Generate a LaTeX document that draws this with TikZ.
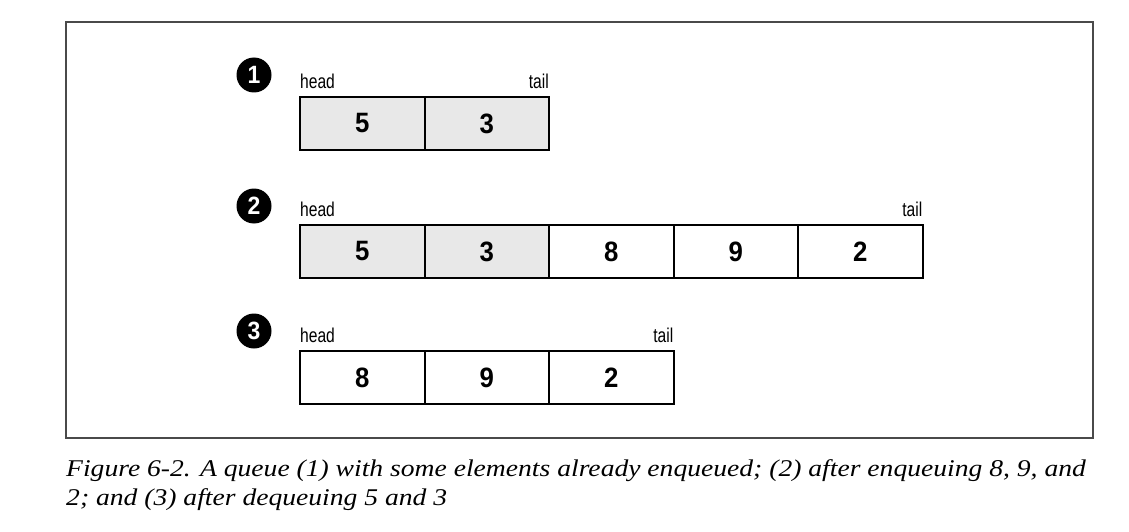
\documentclass[tikz,border=0pt]{standalone}
\usepackage{fontspec}
\usetikzlibrary{positioning}
\newfontfamily\condsans[FakeStretch=0.78]{Liberation Sans}
\newfontfamily\digitsans[FakeStretch=0.92]{Liberation Sans}
\newfontfamily\capserif[FakeStretch=1.15]{Liberation Serif}
\definecolor{qgray}{HTML}{E8E8E8}
\definecolor{framegray}{HTML}{4A4A4A}

\tikzset{
  cell/.style={draw, line width=2pt, minimum width=124.5pt, minimum height=53pt,
    inner sep=0pt, outer sep=0pt, font=\digitsans\bfseries\fontsize{28}{28}\selectfont},
  olditem/.style={cell, fill=qgray},
  lbl/.style={inner sep=0pt, font=\condsans\fontsize{20}{20}\selectfont},
  badge/.style={circle, fill=black, text=white, minimum size=35pt, inner sep=0pt,
    font=\digitsans\bfseries\fontsize{25}{25}\selectfont},
}

\begin{document}
\begin{tikzpicture}[x=1pt, y=-1pt]
\useasboundingbox (0,0) rectangle (1129,532);
\draw[framegray, line width=1.5pt] (66,22) rectangle (1093,438);

% queue 1
\node[badge] (b1) at (254,75) {1};
\node[olditem, anchor=north west] (q1a) at (300,97) {5};
\node[olditem, right=0pt of q1a] (q1b) {3};
\node[lbl, above right=8pt and 0pt of q1a.north west] (h1) {head};
\node[lbl, above left=8pt and 0pt of q1b.north east] (t1) {tail};

% queue 2
\node[badge] (b2) at (254,206) {2};
\node[olditem, anchor=north west] (q2a) at (300,225) {5};
\node[olditem, right=0pt of q2a] (q2b) {3};
\node[cell, right=0pt of q2b] (q2c) {8};
\node[cell, right=0pt of q2c] (q2d) {9};
\node[cell, right=0pt of q2d] (q2e) {2};
\node[lbl, above right=8pt and 0pt of q2a.north west] (h2) {head};
\node[lbl, above left=8pt and 0pt of q2e.north east] (t2) {tail};

% queue 3
\node[badge] (b3) at (254,331) {3};
\node[cell, anchor=north west] (q3a) at (300,351) {8};
\node[cell, right=0pt of q3a] (q3b) {9};
\node[cell, right=0pt of q3b] (q3c) {2};
\node[lbl, above right=8pt and 0pt of q3a.north west] (h3) {head};
\node[lbl, above left=8pt and 0pt of q3c.north east] (t3) {tail};

% caption, base is the second line
\node[anchor=base west, inner sep=0pt, align=left,
  font=\capserif\itshape\fontsize{24}{29}\selectfont] (cap) at (66,505)
  {Figure 6-2. A queue (1) with some elements already enqueued; (2) after enqueuing 8, 9, and\\
   2; and (3) after dequeuing 5 and 3};
\end{tikzpicture}
\end{document}
